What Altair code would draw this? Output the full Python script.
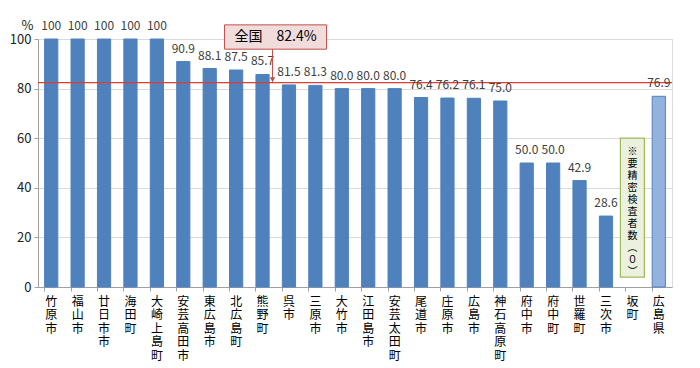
import altair as alt
import pandas as pd

cats = ["竹原市","福山市","廿日市市","海田町","大崎上島町","安芸高田市","東広島市","北広島町",
        "熊野町","呉市","三原市","大竹市","江田島市","安芸太田町","尾道市","庄原市","広島市",
        "神石高原町","府中市","府中町","世羅町","三次市","坂町","広島県"]
values = [100,100,100,100,100,90.9,88.1,87.5,85.7,81.5,81.3,80.0,80.0,80.0,76.4,76.2,76.1,
          75.0,50.0,50.0,42.9,28.6,None,76.9]
labels = ["100","100","100","100","100","90.9","88.1","87.5","85.7","81.5","81.3","80.0",
          "80.0","80.0","76.4","76.2","76.1","75.0","50.0","50.0","42.9","28.6","","76.9"]
kinds = ["市町"]*23 + ["県"]
national = 82.4
note_chars = ["※","要","精","密","検","査","者","数","︵","０","︶"]

df = pd.DataFrame({"cat": cats, "value": values, "label": labels, "kind": kinds})
bars_df = df[df["value"].notna()]

FONT = "Noto Sans CJK JP"
xscale = alt.Scale(domain=cats, paddingInner=0.5, paddingOuter=0.25)
yscale = alt.Scale(domain=[0, 100])

x_axis = alt.Axis(title=None, labelAngle=0, labelExpr="split(datum.label, '')",
                  labelLineHeight=13.5, labelFontSize=12, labelFont=FONT, labelColor="#000000",
                  labelBaseline="top", labelPadding=5, bandPosition=0, ticks=True, tickSize=4,
                  tickColor="#A0A0A0", domainColor="#A0A0A0", grid=False)
y_axis = alt.Axis(title="%", titleAngle=0, titleX=-11, titleY=-7, titleFont=FONT,
                  titleFontSize=13, titleFontWeight="normal", titleColor="#222222",
                  values=[0,20,40,60,80,100], labelFontSize=13, labelFont=FONT,
                  labelColor="#222222", labelPadding=3, tickSize=4, tickColor="#A0A0A0",
                  domainColor="#A0A0A0", gridColor="#D9D9D9")

base = alt.Chart(bars_df)

bars = base.mark_bar(strokeWidth=1).encode(
    x=alt.X("cat:N", scale=xscale, axis=x_axis, sort=cats),
    y=alt.Y("value:Q", scale=yscale, axis=y_axis),
    color=alt.Color("kind:N", scale=alt.Scale(domain=["市町","県"], range=["#4F81BD","#93B3DF"]), legend=None),
    stroke=alt.Stroke("kind:N", scale=alt.Scale(domain=["市町","県"], range=["#4F81BD","#4F81BD"]), legend=None),
)

text = base.mark_text(dy=-13, fontSize=12, font=FONT, color="#404040").encode(
    x=alt.X("cat:N", scale=xscale, sort=cats),
    y=alt.Y("value:Q", scale=yscale),
    text="label:N",
)

line_df = pd.DataFrame({"y": [national]})
nat_line = alt.Chart(line_df).mark_rule(color="#E03C31", strokeWidth=1.3).encode(
    y=alt.Y("y:Q", scale=yscale),
    x=alt.value(0), x2=alt.value("width"),
)

anno_df = pd.DataFrame({"cat": ["熊野町"], "y1": [95.9], "y2": [105.7], "ymid": [100.8],
                        "yl": [national], "txt": ["全国　82.4%"]})
anno = alt.Chart(anno_df)
box = anno.mark_rect(width=102, xOffset=13, fill="#F2DCDB", stroke="#C0504D", strokeWidth=1).encode(
    x=alt.X("cat:N", scale=xscale, sort=cats),
    y=alt.Y("y1:Q", scale=yscale), y2="y2:Q",
)
box_text = anno.mark_text(xOffset=13, fontSize=14, font=FONT, color="#000000").encode(
    x=alt.X("cat:N", scale=xscale, sort=cats),
    y=alt.Y("ymid:Q", scale=yscale), text="txt:N",
)
arrow = anno.mark_rule(xOffset=10, color="#C0504D", strokeWidth=1).encode(
    x=alt.X("cat:N", scale=xscale, sort=cats),
    y=alt.Y("y1:Q", scale=yscale), y2="yl:Q",
)
head = anno.mark_point(shape="triangle-down", filled=True, size=30, xOffset=10, yOffset=-3,
                       color="#C0504D", opacity=1).encode(
    x=alt.X("cat:N", scale=xscale, sort=cats),
    y=alt.Y("yl:Q", scale=yscale),
)

note_df = pd.DataFrame({"cat": ["坂町"], "y1": [4], "y2": [60], "ytop": [56.5]})
note = alt.Chart(note_df)
note_box = note.mark_rect(width=24, fill="#EBF1DE", stroke="#9BBB59", strokeWidth=1.2).encode(
    x=alt.X("cat:N", scale=xscale, sort=cats),
    y=alt.Y("y1:Q", scale=yscale), y2="y2:Q",
)
note_text = note.mark_text(text=note_chars, lineHeight=12, fontSize=10, font=FONT,
                           color="#000000", baseline="top").encode(
    x=alt.X("cat:N", scale=xscale, sort=cats),
    y=alt.Y("ytop:Q", scale=yscale),
)

chart = alt.layer(bars, nat_line, text, box, box_text, arrow, head, note_box, note_text).properties(
    width=634, height=248,
    autosize=alt.AutoSizeParams(type="none"),
    padding={"left": 30, "top": 31, "right": 20, "bottom": 80},
).configure_view(stroke=None).configure(background="#FFFFFF")

chart.save("out.html", embed_options={"renderer": "svg", "actions": False})
